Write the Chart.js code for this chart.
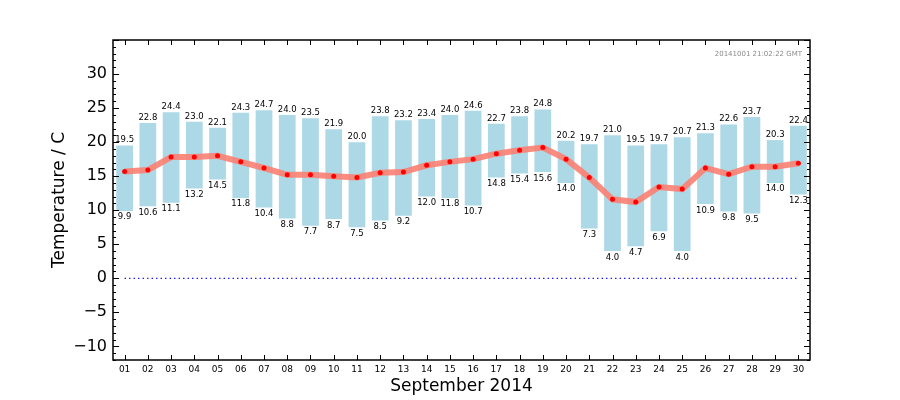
<!DOCTYPE html>
<html><head><meta charset="utf-8">
<script src="https://cdn.jsdelivr.net/npm/chart.js@4/dist/chart.umd.min.js"></script>
<style>html,body{margin:0;padding:0;background:#fff}#wrap{width:900px;height:400px}</style>
</head><body><div id="wrap"><canvas id="c" width="900" height="400"></canvas></div>
<script>
const days = ['01','02','03','04','05','06','07','08','09','10','11','12','13','14','15','16','17','18','19','20','21','22','23','24','25','26','27','28','29','30'];
const maxT = [19.5,22.8,24.4,23.0,22.1,24.3,24.7,24.0,23.5,21.9,20.0,23.8,23.2,23.4,24.0,24.6,22.7,23.8,24.8,20.2,19.7,21.0,19.5,19.7,20.7,21.3,22.6,23.7,20.3,22.4];
const minT = [9.9,10.6,11.1,13.2,14.5,11.8,10.4,8.8,7.7,8.7,7.5,8.5,9.2,12.0,11.8,10.7,14.8,15.4,15.6,14.0,7.3,4.0,4.7,6.9,4.0,10.9,9.8,9.5,14.0,12.3];
const meanT = [15.7,15.9,17.8,17.8,18.0,17.1,16.2,15.2,15.2,15.0,14.8,15.5,15.6,16.6,17.1,17.5,18.3,18.8,19.2,17.5,14.8,11.6,11.2,13.4,13.1,16.2,15.3,16.4,16.4,16.9];
const zeroLine = days.map(() => 0);
const yTicks = [-10,-5,0,5,10,15,20,25,30];
const stamp = '20141001 21:02:22 GMT';
const FONT = '"DejaVu Sans", sans-serif';

const decor = {
  id: 'decor',
  afterDatasetsDraw(chart) {
    const ctx = chart.ctx;
    const meta = chart.getDatasetMeta(0);
    ctx.save();
    ctx.fillStyle = '#000';
    ctx.font = '8.5px ' + FONT;
    ctx.textAlign = 'center';
    meta.data.forEach((el, i) => {
      const top = Math.min(el.y, el.base), bot = Math.max(el.y, el.base);
      ctx.textBaseline = 'bottom';
      ctx.fillText(maxT[i].toFixed(1), el.x, top - 1);
      ctx.textBaseline = 'top';
      ctx.fillText(minT[i].toFixed(1), el.x, bot + 2);
    });
    ctx.restore();
  },
  afterDraw(chart) {
    const ctx = chart.ctx, a = chart.chartArea;
    const y = chart.scales.y, x = chart.scales.x;
    ctx.save();
    ctx.strokeStyle = '#000';
    ctx.lineWidth = 1;
    ctx.beginPath();
    for (let v = -12; v <= 35; v++) {
      const p = Math.round(y.getPixelForValue(v)) + 0.5;
      const len = (v % 5 === 0) ? 6 : 3;
      ctx.moveTo(a.left, p); ctx.lineTo(a.left + len, p);
      ctx.moveTo(a.right, p); ctx.lineTo(a.right - len, p);
    }
    for (let i = 0; i < days.length; i++) {
      const p = Math.round(x.getPixelForValue(i)) + 0.5;
      ctx.moveTo(p, a.bottom); ctx.lineTo(p, a.bottom - 5);
      ctx.moveTo(p, a.top); ctx.lineTo(p, a.top + 5);
    }
    ctx.stroke();
    ctx.lineWidth = 1.5;
    ctx.strokeRect(a.left, a.top, a.right - a.left, a.bottom - a.top);
    ctx.fillStyle = '#8a8a8a';
    ctx.font = '7px ' + FONT;
    ctx.textAlign = 'right';
    ctx.textBaseline = 'middle';
    ctx.fillText(stamp, a.right - 8, a.top + 14);
    ctx.restore();
  }
};

new Chart(document.getElementById('c'), {
  data: {
    labels: days,
    datasets: [
      { type: 'bar', data: days.map((d, i) => [minT[i], maxT[i]]), backgroundColor: '#ADD8E6',
        borderWidth: 0, barPercentage: 0.72, categoryPercentage: 1.0, order: 3 },
      { type: 'line', data: meanT, borderColor: 'rgba(250,128,114,0.9)', borderWidth: 6,
        pointRadius: 2.5, pointBackgroundColor: '#ff0000', pointBorderWidth: 0, tension: 0, order: 1 },
      { type: 'line', data: zeroLine, borderColor: '#0000ff', borderWidth: 1.2, borderDash: [1.3, 3.2],
        pointRadius: 0, tension: 0, order: 2 }
    ]
  },
  options: {
    responsive: false, animation: false,
    layout: { padding: { top: 40, right: 90, left: 0, bottom: 0 } },
    plugins: { legend: { display: false }, tooltip: { enabled: false } },
    scales: {
      x: {
        type: 'category', offset: true,
        grid: { display: false, drawTicks: false }, border: { display: false },
        ticks: { color: '#000', font: { family: FONT, size: 9 }, padding: 4, maxRotation: 0, autoSkip: false },
        title: { display: true, text: 'September 2014', color: '#000', font: { family: FONT, size: 17 }, padding: { top: 0, bottom: 3 } },
        afterFit(s) { s.height = 40; }
      },
      y: {
        min: -12, max: 35,
        grid: { display: false, drawTicks: false }, border: { display: false },
        afterBuildTicks(s) { s.ticks = yTicks.map(v => ({ value: v })); },
        ticks: { color: '#000', font: { family: FONT, size: 16 }, padding: 6,
          callback: v => v < 0 ? '\u2212' + Math.abs(v) : String(v) },
        title: { display: true, text: 'Temperature / C', color: '#000', font: { family: FONT, size: 17 }, padding: { top: 49, bottom: 0 } },
        afterFit(s) { s.width = 113; }
      }
    }
  },
  plugins: [decor]
});
</script></body></html>
